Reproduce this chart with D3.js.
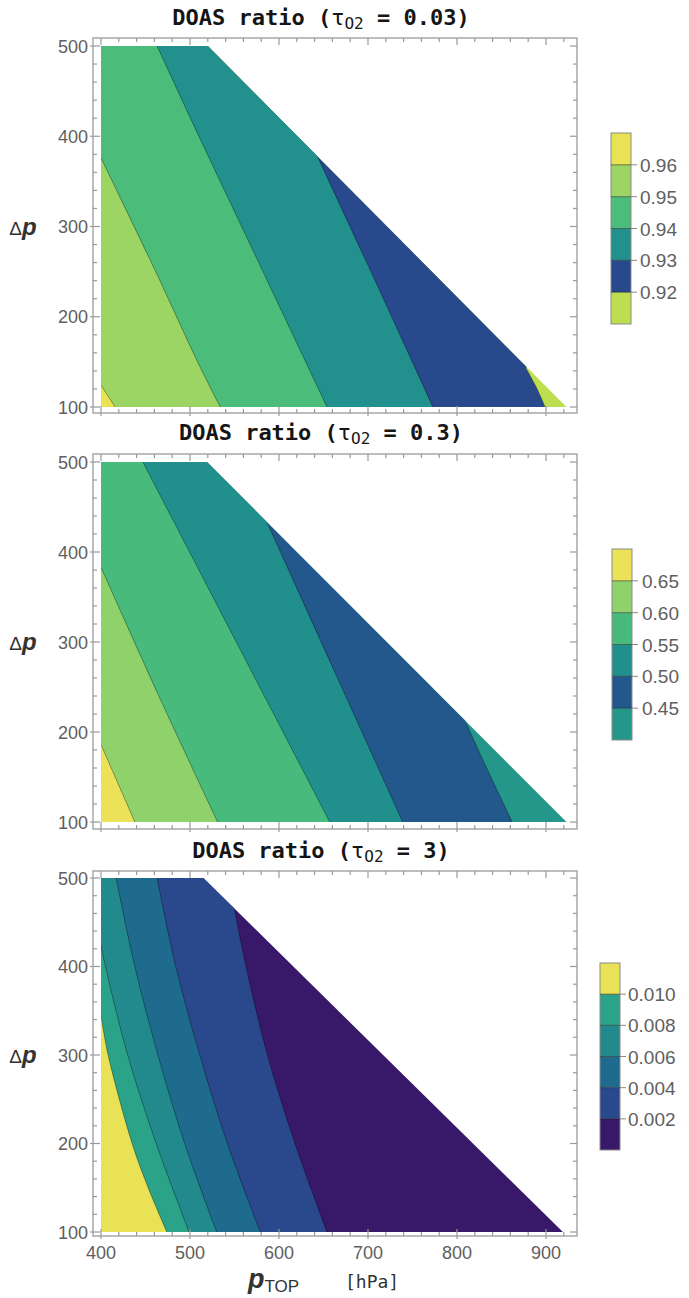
<!DOCTYPE html>
<html>
<head>
<meta charset="utf-8">
<script src="https://cdn.jsdelivr.net/npm/d3@7"></script>
<style>
  body { margin: 0; background: #fff; }
  svg { display: block; }
</style>
</head>
<body>
<div id="chart"></div>
<script>
// axis ticks
const pTopTicks = [400, 500, 600, 700, 800, 900];
const dpTicks = [100, 200, 300, 400, 500];
const tauValues = ["0.03", "0.3", "3"];

// panel 1 : tau = 0.03  (levels low -> high, colours low band -> high band)
const levels1 = ["0.92", "0.93", "0.94", "0.95", "0.96"];
const colors1 = ["#bddf4f", "#284a8c", "#22908c", "#4cbc7b", "#9dd565", "#e9e253"];
const domain1 = [[400, 100], [400, 500], [520, 500], [923, 100]];
const contours1 = [
    [[878, 142], [890, 120], [899, 100]],
    [[644, 376], [708, 240], [773, 100]],
    [[463, 500], [510, 400], [558, 300], [606, 200], [654, 100]],
    [[400, 376], [460, 253], [511, 145], [534, 100]],
    [[400, 124], [416, 100]]
];

// panel 2 : tau = 0.3
const levels2 = ["0.45", "0.50", "0.55", "0.60", "0.65"];
const colors2 = ["#25968a", "#22588c", "#21908c", "#48bb7c", "#8fd26b", "#ebe25a"];
const domain2 = [[400, 100], [400, 500], [519, 500], [923, 100]];
const contours2 = [
    [[810, 210], [838, 150], [862, 100]],
    [[587, 432], [663, 266], [739, 100]],
    [[447, 500], [552, 300], [657, 100]],
    [[400, 383], [465, 240], [531, 100]],
    [[400, 186], [438, 100]]
];

// panel 3 : tau = 3
const levels3 = ["0.002", "0.004", "0.006", "0.008", "0.010"];
const colors3 = ["#381868", "#2a498c", "#1f6b8e", "#228a8d", "#2aa388", "#e9e256"];
const domain3 = [[400, 100], [400, 500], [515, 500], [919, 100]];
const contours3 = [
    [[549, 470], [563, 400], [587, 300], [618, 200], [654, 100]],
    [[463, 500], [484, 400], [511, 300], [542, 200], [579, 100]],
    [[417, 500], [438, 400], [464, 300], [494, 200], [530, 100]],
    [[400, 424], [405, 400], [430, 300], [462, 200], [499, 100]],
    [[400, 345], [408, 300], [435, 200], [453, 150], [474, 100]]
];

const W = 689, H = 1298;
const FRAME_X = [93, 577];
const TITLE_CX = 321;
const LAYOUT = [
    { title: 25,   frame: [38, 413],   y: [46, 407],   bar: { x: 611, y: [133, 324], lx: 640 } },
    { title: 440,  frame: [454, 829],  y: [462, 822],  bar: { x: 612, y: [549, 740], lx: 642 } },
    { title: 858,  frame: [871, 1236], y: [878, 1232], bar: { x: 600, y: [963, 1150], lx: 628 } }
];
const panels = [
    { levels: levels1, colors: colors1, domain: domain1, contours: contours1 },
    { levels: levels2, colors: colors2, domain: domain2, contours: contours2 },
    { levels: levels3, colors: colors3, domain: domain3, contours: contours3 }
];

const TICK_FONT = "'Liberation Sans', Arial, sans-serif";
const MONO_FONT = "'DejaVu Sans Mono', monospace";
const FRAME_COLOR = "#9a9a9a";
const LABEL_COLOR = "#606060";

const svg = d3.select("#chart").append("svg").attr("width", W).attr("height", H);
svg.append("rect").attr("width", W).attr("height", H).attr("fill", "#fff");

const x = d3.scaleLinear().domain([400, 900]).range([101, 546]);

panels.forEach((p, i) => {
    const L = LAYOUT[i];
    const y = d3.scaleLinear().domain([100, 500]).range([L.y[1], L.y[0]]);
    const g = svg.append("g");

    // title
    const t = g.append("text")
        .attr("x", TITLE_CX)
        .attr("y", L.title)
        .attr("text-anchor", "middle")
        .attr("font-family", MONO_FONT)
        .attr("font-weight", "bold")
        .attr("font-size", 22)
        .attr("fill", "#151515");
    t.append("tspan").text("DOAS ratio (");
    t.append("tspan").attr("font-weight", "normal").text("τ");
    t.append("tspan").attr("font-size", 16).attr("font-weight", "normal").attr("dy", 4).text("O2");
    t.append("tspan").attr("dy", -4).text(` = ${tauValues[i]})`);

    // clip to valid region
    const clipId = `clip${i}`;
    g.append("clipPath").attr("id", clipId)
        .append("path")
        .attr("d", "M" + p.domain.map(d => `${x(d[0])},${y(d[1])}`).join("L") + "Z");

    const plot = g.append("g").attr("clip-path", `url(#${clipId})`);
    plot.append("rect")
        .attr("x", 0).attr("y", 0).attr("width", W).attr("height", H)
        .attr("fill", p.colors[0]);

    const line = d3.line().x(d => x(d[0])).y(d => y(d[1])).curve(d3.curveCatmullRom);

    p.contours.forEach((c, k) => {
        const first = c[0], last = c[c.length - 1];
        const close = `L${x(last[0])},${y(-200)}L${x(0)},${y(-200)}L${x(0)},${y(1200)}L${x(first[0])},${y(1200)}Z`;
        const d = `M${x(first[0])},${y(1200)}` + line(c).replace(/^M/, "L") + close;
        plot.append("path").attr("d", d).attr("fill", p.colors[k + 1]);
    });
    p.contours.forEach(c => {
        plot.append("path").attr("d", line(c))
            .attr("fill", "none")
            .attr("stroke", "rgba(0,0,0,0.35)")
            .attr("stroke-width", 1);
    });

    // frame
    const fy0 = L.frame[0], fy1 = L.frame[1];
    g.append("rect")
        .attr("x", FRAME_X[0]).attr("y", fy0)
        .attr("width", FRAME_X[1] - FRAME_X[0]).attr("height", fy1 - fy0)
        .attr("fill", "none").attr("stroke", FRAME_COLOR).attr("stroke-width", 1.3);

    const ticks = g.append("g").attr("stroke", FRAME_COLOR).attr("stroke-width", 1.2);
    d3.range(100, 501, 20).forEach(v => {
        const major = v % 100 === 0;
        const len = major ? 7 : 4;
        const yy = y(v);
        ticks.append("line").attr("x1", FRAME_X[0] - (major ? 3 : 0)).attr("x2", FRAME_X[0] + len).attr("y1", yy).attr("y2", yy);
        ticks.append("line").attr("x1", FRAME_X[1] - len).attr("x2", FRAME_X[1]).attr("y1", yy).attr("y2", yy);
    });
    d3.range(400, 921, 20).forEach(v => {
        const major = v % 100 === 0;
        const len = major ? 7 : 4;
        const xx = x(v);
        ticks.append("line").attr("x1", xx).attr("x2", xx).attr("y1", fy1 + (major ? 3 : 0)).attr("y2", fy1 - len);
        ticks.append("line").attr("x1", xx).attr("x2", xx).attr("y1", fy0).attr("y2", fy0 + len);
    });

    // y tick labels
    g.append("g").selectAll("text").data(dpTicks).join("text")
        .attr("x", 88).attr("y", d => y(d) + 6.5)
        .attr("text-anchor", "end")
        .attr("font-family", TICK_FONT).attr("font-size", 18)
        .attr("fill", LABEL_COLOR)
        .text(d => d);

    // y axis label
    const yl = g.append("text")
        .attr("x", 23).attr("y", (L.y[0] + L.y[1]) / 2 + 8)
        .attr("text-anchor", "middle")
        .attr("font-family", TICK_FONT).attr("fill", "#333");
    yl.append("tspan").attr("font-size", 19).text("Δ");
    yl.append("tspan").attr("font-size", 24).attr("font-weight", "bold").attr("font-style", "italic").text("p");

    // colour bar
    const B = L.bar;
    const nb = p.colors.length;
    const bh = (B.y[1] - B.y[0]) / nb;
    const bar = g.append("g");
    p.colors.forEach((c, k) => {
        bar.append("rect")
            .attr("x", B.x).attr("y", B.y[1] - (k + 1) * bh)
            .attr("width", 20).attr("height", bh)
            .attr("fill", c);
    });
    bar.append("rect")
        .attr("x", B.x).attr("y", B.y[0]).attr("width", 20).attr("height", B.y[1] - B.y[0])
        .attr("fill", "none").attr("stroke", "#8a8a8a").attr("stroke-width", 1);
    p.levels.forEach((lv, k) => {
        const yy = B.y[1] - (k + 1) * bh;
        bar.append("line").attr("x1", B.x).attr("x2", B.x + 20).attr("y1", yy).attr("y2", yy)
            .attr("stroke", "rgba(30,30,30,0.55)").attr("stroke-width", 1);
        bar.append("line").attr("x1", B.x + 20).attr("x2", B.x + 26).attr("y1", yy).attr("y2", yy)
            .attr("stroke", "#8a8a8a").attr("stroke-width", 1);
        bar.append("text")
            .attr("x", B.lx).attr("y", yy + 7)
            .attr("font-family", TICK_FONT).attr("font-size", 19)
            .attr("fill", LABEL_COLOR)
            .text(lv);
    });

    // x tick labels on bottom panel
    if (i === panels.length - 1) {
        g.append("g").selectAll("text").data(pTopTicks).join("text")
            .attr("x", d => x(d)).attr("y", fy1 + 23)
            .attr("text-anchor", "middle")
            .attr("font-family", TICK_FONT).attr("font-size", 18)
            .attr("fill", LABEL_COLOR)
            .text(d => d);

        const xl = g.append("text").attr("x", 248).attr("y", fy1 + 52)
            .attr("font-family", TICK_FONT).attr("fill", "#333");
        xl.append("tspan").attr("font-size", 27).attr("font-weight", "bold").attr("font-style", "italic").text("p");
        xl.append("tspan").attr("font-size", 17).attr("dy", 4).text("TOP");
        xl.append("tspan").attr("x", 345).attr("dy", -4).attr("font-family", MONO_FONT).attr("font-size", 18).text("[hPa]");
    }
});
</script>
</body>
</html>
